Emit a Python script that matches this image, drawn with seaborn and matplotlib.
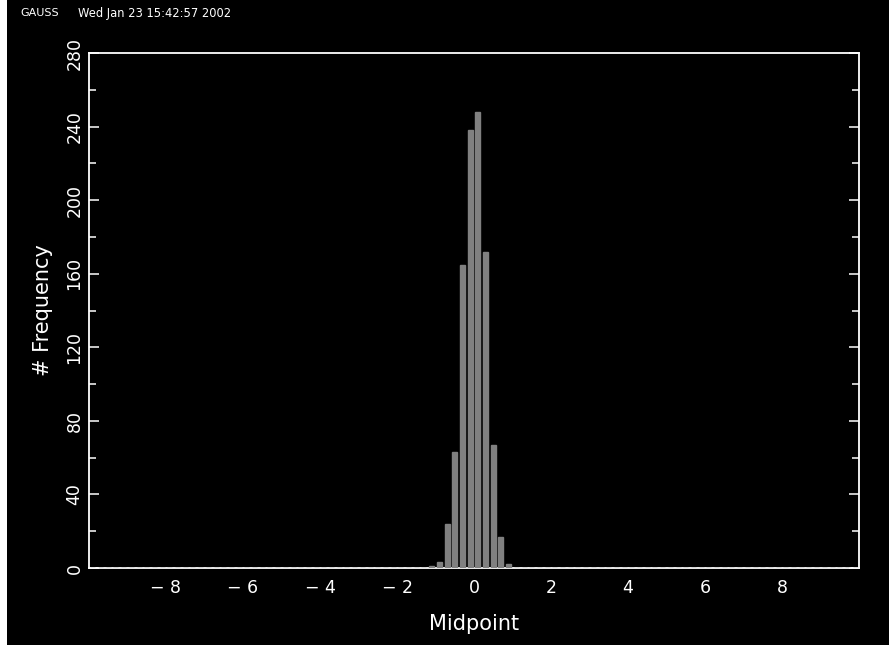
import numpy as np
import pandas as pd
import matplotlib
matplotlib.use("Agg")
import matplotlib.pyplot as plt
from matplotlib.patches import Rectangle
from matplotlib.ticker import MultipleLocator
import seaborn as sns

# Histogram bins of width 0.2 spanning -10..10, counts per bin midpoint
bin_width = 0.2
midpoints = np.round(np.arange(-9.9, 10.0, bin_width), 1)
nonzero_counts = {
    -1.1: 1, -0.9: 3, -0.7: 24, -0.5: 63, -0.3: 165, -0.1: 238,
    0.1: 248, 0.3: 172, 0.5: 67, 0.7: 17, 0.9: 2,
}
counts = [nonzero_counts.get(m, 0) for m in midpoints]

x_ticks = [-8, -6, -4, -2, 0, 2, 4, 6, 8]
y_ticks = [0, 40, 80, 120, 160, 200, 240, 280]
program_name = "GAUSS"
timestamp = "Wed Jan 23 15:42:57 2002"

df = pd.DataFrame({"Midpoint": midpoints, "Frequency": counts})

sns.set_theme(style="dark")
plt.rcParams["font.family"] = ["DejaVu Sans"]

fig = plt.figure(figsize=(8.89, 6.45), dpi=100, facecolor="white")
# black canvas, leaving a thin white strip along the left edge
fig.patches.append(Rectangle((7 / 889, -0.1), 1.2, 1.2, transform=fig.transFigure,
                             facecolor="black", edgecolor="none", zorder=-10))

ax = fig.add_axes([89 / 889, 1 - 568 / 645, (859 - 89) / 889, (568 - 53) / 645])
ax.set_facecolor("black")

bar_w = 0.13
ax.bar(df["Midpoint"], df["Frequency"], width=bar_w, color="#808080",
       edgecolor="#808080", linewidth=1.0, zorder=3)
sns.despine(ax=ax, top=False, right=False, left=False, bottom=False)

ax.set_xlim(-10, 10)
ax.set_ylim(0, 280)

for s in ax.spines.values():
    s.set_color("white")
    s.set_linewidth(1.3)
    s.set_zorder(2)

ax.set_xticks(x_ticks)
ax.set_xticklabels([str(t).replace("-", "\u2212 ") for t in x_ticks])
ax.set_yticks(y_ticks)
ax.set_yticklabels([str(t) for t in y_ticks], rotation=90, va="center")
ax.yaxis.set_minor_locator(MultipleLocator(20))

ax.tick_params(axis="x", which="both", length=0, colors="white",
               labelsize=12.5, pad=8)
ax.tick_params(axis="y", which="major", direction="in", length=7, width=1.1,
               colors="white", left=True, right=True, labelsize=12.5, pad=4)
ax.tick_params(axis="y", which="minor", direction="in", length=5, width=1.1,
               colors="white", left=True, right=True)
for lab in ax.get_xticklabels() + ax.get_yticklabels():
    lab.set_color("white")

ax.grid(False)
ax.set_xlabel("Midpoint", color="white", fontsize=15, labelpad=12)
ax.set_ylabel("# Frequency", color="white", fontsize=15, labelpad=9)

fig.text(20 / 889, 1 - 13 / 645, program_name, color="white", fontsize=8,
         va="center", ha="left")
fig.text(78 / 889, 1 - 13 / 645, timestamp, color="white", fontsize=8.3,
         va="center", ha="left")

fig.savefig("out.png", dpi=100, facecolor=fig.get_facecolor())
